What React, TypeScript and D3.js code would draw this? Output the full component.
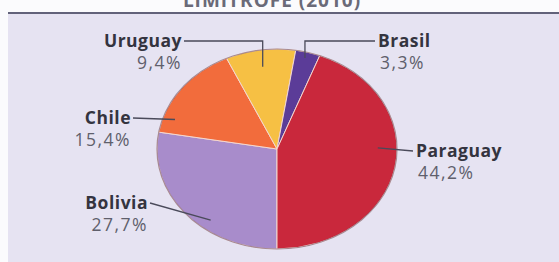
import React from "react";
import * as d3 from "d3";

const categories = ["Bolivia", "Chile", "Uruguay", "Brasil", "Paraguay"];
const values = [27.7, 15.4, 9.4, 3.3, 44.2];
const valueLabels = ["27,7%", "15,4%", "9,4%", "3,3%", "44,2%"];
const colors = ["#a88ccb", "#f26c3c", "#f6c044", "#5b3c98", "#c9283c"];
const titleText = "LIMÍTROFE (2010)";

// label layout: text position, anchor, leader anchor inside slice (fraction of slice angle, radius fraction)
const layout: Record<string, { x: number; y: number; anchor: "start" | "end"; af: number; rf: number; elbow: boolean }> = {
  Bolivia: { x: 148, y: 209, anchor: "end", af: 0.38, rf: 0.9, elbow: false },
  Chile: { x: 131, y: 124, anchor: "end", af: 0.17, rf: 0.9, elbow: false },
  Uruguay: { x: 182, y: 47, anchor: "end", af: 0.49, rf: 0.83, elbow: true },
  Brasil: { x: 378, y: 47, anchor: "start", af: 0.45, rf: 0.94, elbow: true },
  Paraguay: { x: 416, y: 157, anchor: "start", af: 0.43, rf: 0.84, elbow: false },
};

export default function App() {
  const W = 559, H = 262;
  const cx = 277, cy = 149, R = 120, ky = 100 / 120;
  const pie = d3.pie<number>().sort(null).value((d) => d).startAngle(Math.PI).endAngle(3 * Math.PI);
  const arcs = pie(values);
  const arc = d3.arc<d3.PieArcDatum<number>>().innerRadius(0).outerRadius(R);
  const pt = (a: number, r: number) => [cx + r * Math.sin(a), cy - r * Math.cos(a) * ky];
  const font = "'Open Sans', 'Noto Sans', sans-serif";

  return (
    <svg width={W} height={H} style={{ position: "fixed", left: 0, top: 0, background: "#fbfbfd" }}>
      <text x={272} y={7} textAnchor="middle" fontFamily={font} fontWeight={700} fontSize={19} fill="#6a6a78" letterSpacing={1}>
        {titleText}
      </text>
      <rect x={8} y={14} width={W - 8} height={H - 14} fill="#e6e3f2" />
      <line x1={8} x2={W} y1={13} y2={13} stroke="#62627a" strokeWidth={2} />
      <g transform={`translate(${cx},${cy}) scale(1,${ky})`}>
        {arcs.map((a, i) => (
          <path key={categories[i]} d={arc(a) || ""} fill={colors[i]} stroke="#f3d6cf" strokeWidth={1} vectorEffect="non-scaling-stroke" />
        ))}
        <ellipse cx={0} cy={0} rx={R} ry={R} fill="none" stroke="#7a5a6a" strokeOpacity={0.6} strokeWidth={1.2} vectorEffect="non-scaling-stroke" />
      </g>
      {arcs.map((a, i) => {
        const name = categories[i];
        const L = layout[name];
        const ang = a.startAngle + (a.endAngle - a.startAngle) * L.af;
        const [px, py] = pt(ang, R * L.rf);
        const lineY = L.y - 6;
        const textEdge = L.anchor === "end" ? L.x + 2 : L.x - 3;
        const d = L.elbow
          ? `M${textEdge},${lineY}H${px}V${py}`
          : `M${textEdge},${lineY}L${px},${py}`;
        return (
          <g key={name}>
            <path d={d} fill="none" stroke="#4a4a5a" strokeWidth={1.3} />
            <text x={L.x} y={L.y} textAnchor={L.anchor} fontFamily={font} fontWeight={700} fontSize={17.5} fill="#34343f" letterSpacing={0.5}>
              {name}
            </text>
            <text x={L.x + (L.anchor === "end" ? 0 : 2)} y={L.y + 22} textAnchor={L.anchor} fontFamily={font} fontSize={17.5} fill="#5f5f6c" letterSpacing={1.5}>
              {valueLabels[i]}
            </text>
          </g>
        );
      })}
    </svg>
  );
}
